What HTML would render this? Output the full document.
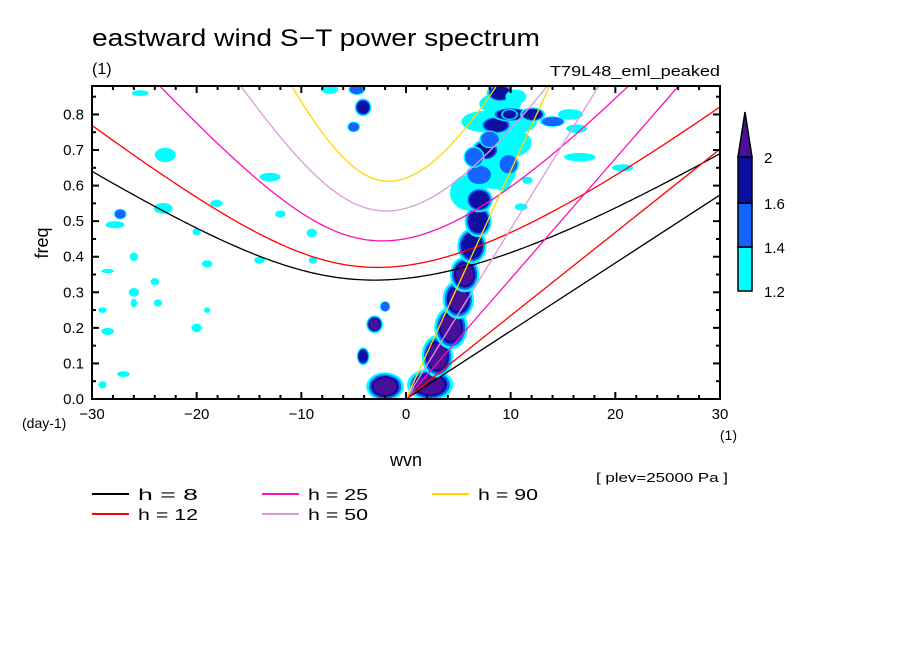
<!DOCTYPE html>
<html><head><meta charset="utf-8"><style>
html,body{margin:0;padding:0;background:#fff;}
svg{display:block;font-family:"Liberation Sans",sans-serif;}
</style></head><body>
<svg id="chart" width="904" height="654" viewBox="0 0 904 654">
<defs><clipPath id="plotclip"><rect x="92" y="86" width="628" height="313"/></clipPath></defs>
<rect x="0" y="0" width="904" height="654" fill="#fff"/>
<text x="92" y="46" font-size="24" textLength="448" lengthAdjust="spacingAndGlyphs">eastward wind S−T power spectrum</text>
<text x="92" y="74" font-size="16">(1)</text>
<text x="720" y="76" font-size="15" text-anchor="end" textLength="170" lengthAdjust="spacingAndGlyphs">T79L48_eml_peaked</text>
<g id="blobs" clip-path="url(#plotclip)"></g>
<g id="curves" clip-path="url(#plotclip)"></g>
<rect x="92" y="86" width="628" height="313" fill="none" stroke="#000" stroke-width="2"/>
<g id="axes"></g>
<text x="48" y="243" font-size="18" text-anchor="middle" transform="rotate(-90 48 243)">freq</text>
<text x="22" y="428" font-size="14">(day-1)</text>
<text x="737" y="440" font-size="14" text-anchor="end">(1)</text>
<text x="406" y="466" font-size="18" text-anchor="middle">wvn</text>
<text x="728" y="482" font-size="13" text-anchor="end" textLength="132" lengthAdjust="spacingAndGlyphs">[ plev=25000 Pa ]</text>
<g id="legend"></g>
<g id="colorbar"></g>
</svg>
<script>
const NS="http://www.w3.org/2000/svg";
const xTicks=[-30,-20,-10,0,10,20,30];
const yTicks=[0.0,0.1,0.2,0.3,0.4,0.5,0.6,0.7,0.8];
const depths=[8,12,25,50,90];
const depthColors=["#000000","#ff0000","#ff10b0","#dd99dd","#ffd700"];
const levelColors=["#00ffff","#1464ff","#0c10a0","#4a0f9a"];
const levelLabels=["1.2","1.4","1.6","2"];
// blobs: wvn, freq, rx(wvn), ry(freq), level(1..4)
const blobWvn=[6.0,8.5,10.0,7.5,9.0,11.0,
 2.3,-2,3.0,4.3,5.0,5.6,6.3,6.9,7.0,7.0,7.6,8.6,10,9,6.5,9.2,8.0,9.8,10.5,
 -25.4,-23,-27.3,-23.2,-27.8,-13,-18.1,-20,-9,-8.9,-14,-19,-26,-28.5,-24,-26,-26,-29,-20,-28.5,-19,-23.7,-5,-7.3,-4.7,-4.1,-2,-3,-4.1,-29,-27,-12,
 15.7,16.3,16.6,20.7,11.6,11,14,12.1,9.9];
const blobFreq=[0.58,0.64,0.72,0.78,0.83,0.78,
 0.04,0.035,0.12,0.2,0.28,0.35,0.43,0.5,0.56,0.63,0.7,0.77,0.8,0.86,0.68,0.62,0.73,0.66,0.85,
 0.86,0.686,0.52,0.536,0.49,0.624,0.55,0.47,0.467,0.39,0.39,0.38,0.40,0.36,0.33,0.30,0.27,0.25,0.20,0.19,0.25,0.27,0.765,0.87,0.87,0.82,0.26,0.21,0.12,0.04,0.07,0.52,
 0.80,0.76,0.68,0.65,0.615,0.54,0.78,0.80,0.80];
const blobRx=[1.8,2.0,2.0,2.2,2.0,1.5,
 2.2,1.8,1.5,1.6,1.5,1.4,1.4,1.3,1.3,1.3,1.3,1.5,1.8,1.3,1.0,0.9,1.0,1.0,1.0,
 0.8,1.0,0.6,0.9,0.9,1.0,0.6,0.4,0.5,0.4,0.5,0.5,0.4,0.6,0.4,0.5,0.3,0.4,0.5,0.6,0.3,0.4,0.6,0.8,0.8,0.8,0.5,0.8,0.6,0.4,0.6,0.5,
 1.2,1.0,1.5,1.0,0.5,0.6,1.2,1.2,0.8];
const blobRy=[0.05,0.05,0.04,0.03,0.03,0.03,
 0.045,0.04,0.06,0.06,0.055,0.05,0.05,0.045,0.035,0.03,0.03,0.025,0.02,0.025,0.03,0.035,0.025,0.03,0.02,
 0.008,0.02,0.015,0.015,0.01,0.012,0.01,0.01,0.012,0.01,0.01,0.01,0.012,0.006,0.01,0.012,0.012,0.008,0.012,0.01,0.008,0.01,0.015,0.012,0.015,0.025,0.015,0.025,0.025,0.01,0.008,0.01,
 0.015,0.012,0.012,0.01,0.01,0.01,0.015,0.02,0.015];
const blobLevel=[1,1,1,1,1,1,
 4,4,4,4,4,4,3,3,3,2,3,3,3,3,2,1,2,2,1,
 1,1,2,1,1,1,1,1,1,1,1,1,1,1,1,1,1,1,1,1,1,1,2,1,2,3,2,4,3,1,1,1,
 1,1,1,1,1,1,2,3,3];

const X0=92,X1=720,Y0=399,Y1=86,FMAX=0.88;
function xs(w){return X0+(w+30)/60*(X1-X0);}
function ys(f){return Y0-f/FMAX*(Y0-Y1);}
function mk(tag,attrs,parent){const e=document.createElementNS(NS,tag);for(const k in attrs)e.setAttribute(k,attrs[k]);parent.appendChild(e);return e;}

// blobs
const gB=document.getElementById('blobs');
const scales=[1,0.86,0.74,0.6];
for(let i=0;i<blobWvn.length;i++){
  for(let l=0;l<blobLevel[i];l++){
    const rx=blobRx[i]*scales[l]*(X1-X0)/60, ry=blobRy[i]*scales[l]*(Y0-Y1)/FMAX;
    const e=mk('ellipse',{cx:xs(blobWvn[i]),cy:ys(blobFreq[i]),rx:rx,ry:ry,fill:levelColors[l]},gB);
    
    
  }
}

// dispersion curves
const g=9.81,a=6.371e6,Om=7.292e-5,beta=2*Om/a,toCpd=86400/(2*Math.PI);
function roots(s,h){
  const c=Math.sqrt(g*h),k=s/a;
  const p=-(c*c*k*k+3*beta*c),q=-beta*c*c*k;
  const r=2*Math.sqrt(-p/3);
  let arg=(3*q/(2*p))*Math.sqrt(-3/p);arg=Math.max(-1,Math.min(1,arg));
  const th=Math.acos(arg)/3;
  return [0,1,2].map(m=>r*Math.cos(th-2*Math.PI*m/3)*toCpd);
}
const gC=document.getElementById('curves');
depths.forEach((h,i)=>{
  const c=Math.sqrt(g*h);
  let ig=[],ro=[],kv=[];
  for(let s=-30;s<=30.001;s+=0.25){
    const r=roots(s,h);
    ig.push(xs(s).toFixed(2)+','+ys(r[0]).toFixed(2));
    if(s<=0) ro.push(xs(s).toFixed(2)+','+ys(Math.max(0,r[2])).toFixed(2));
  }
  kv=[xs(0)+','+ys(0), xs(30)+','+ys(c*30/a*toCpd)];
  const l1=mk('polyline',{points:ig.join(' '),fill:'none',stroke:depthColors[i],'stroke-width':1.3},gC);
  
  
  const l2=mk('polyline',{points:ro.join(' '),fill:'none',stroke:depthColors[i],'stroke-width':1.3},gC);
  
  
  const l3=mk('polyline',{points:kv.join(' '),fill:'none',stroke:depthColors[i],'stroke-width':1.3},gC);
  
  
});

// axes
const gA=document.getElementById('axes');
for(let w=-30;w<=30;w+=2){
  const big=(w%10===0);const L=big?7:4;
  mk('line',{x1:xs(w),x2:xs(w),y1:Y0,y2:Y0-L,stroke:'#000','stroke-width':2},gA);
  mk('line',{x1:xs(w),x2:xs(w),y1:Y1,y2:Y1+L,stroke:'#000','stroke-width':2},gA);
}
for(let f=0;f<=0.875;f+=0.05){
  const big=Math.abs(f*10-Math.round(f*10))<0.01;const L=big?7:4;
  mk('line',{x1:X0,x2:X0+L,y1:ys(f),y2:ys(f),stroke:'#000','stroke-width':2},gA);
  mk('line',{x1:X1,x2:X1-L,y1:ys(f),y2:ys(f),stroke:'#000','stroke-width':2},gA);
}
xTicks.forEach(t=>{
  const e=mk('text',{x:xs(t),y:419,'font-size':15,'text-anchor':'middle'},gA);
  e.textContent=(t<0?'−':'')+Math.abs(t);
  
  
});
yTicks.forEach(t=>{
  const e=mk('text',{x:84,y:ys(t)+5,'font-size':15,'text-anchor':'end'},gA);
  e.textContent=t.toFixed(1);
  
  
});

// legend
const gL=document.getElementById('legend');
const legPos=[[92,494],[92,514],[262,494],[262,514],[432,494]];
depths.forEach((h,i)=>{
  const [x,y]=legPos[i];
  const ln=mk('line',{x1:x,x2:x+37,y1:y,y2:y,stroke:depthColors[i],'stroke-width':2},gL);
  
  
  const t=mk('text',{x:x+46,y:y+6,'font-size':16,'xml:space':'preserve',textLength:60,lengthAdjust:'spacingAndGlyphs'},gL);
  t.textContent='h = '+(h<10?' ':'')+h;
  
  
});

// colorbar
const gCB=document.getElementById('colorbar');
const cbY=[291,247,203,157];
for(let i=0;i<3;i++){
  const r=mk('rect',{x:738,y:cbY[i+1],width:14,height:cbY[i]-cbY[i+1],fill:levelColors[i],stroke:'#000','stroke-width':1.5},gCB);
  
  
}
const tri=mk('polygon',{points:'738,157 752,157 745,112',fill:levelColors[3],stroke:'#000','stroke-width':1.5},gCB);


levelLabels.forEach((s,i)=>{
  const t=mk('text',{x:764,y:cbY[i]+6,'font-size':15},gCB);
  t.textContent=s;
  
  
});
</script>
</body></html>
